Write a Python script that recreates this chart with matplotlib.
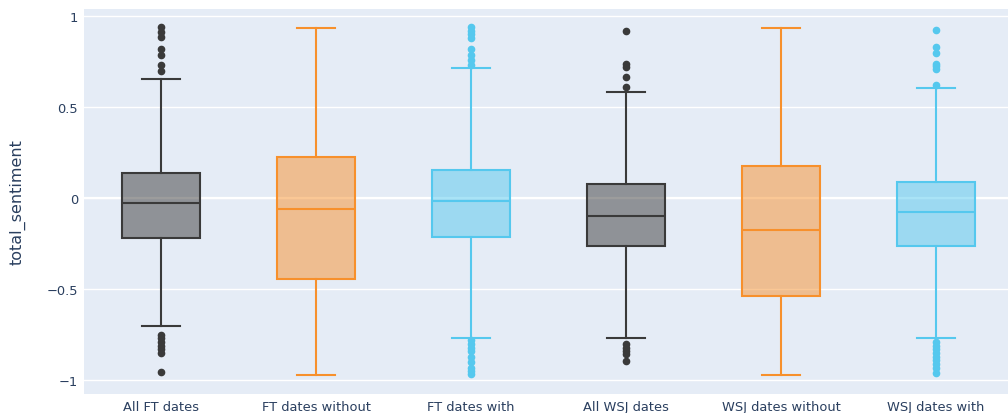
import matplotlib.pyplot as plt
from matplotlib.colors import to_rgba

# Box statistics per group (read as quartiles / whisker ends / outliers)
categories = ["All FT dates", "FT dates without", "FT dates with",
              "All WSJ dates", "WSJ dates without", "WSJ dates with"]
q1 = [-0.22, -0.443, -0.214, -0.264, -0.538, -0.262]
median = [-0.027, -0.059, -0.013, -0.097, -0.172, -0.077]
q3 = [0.137, 0.225, 0.157, 0.079, 0.176, 0.088]
whisker_low = [-0.703, -0.973, -0.77, -0.768, -0.97, -0.766]
whisker_high = [0.654, 0.934, 0.714, 0.586, 0.934, 0.605]
outliers = [
    [0.939, 0.914, 0.885, 0.82, 0.79, 0.73, 0.70,
     -0.75, -0.77, -0.79, -0.81, -0.83, -0.85, -0.956],
    [],
    [0.94, 0.92, 0.90, 0.88, 0.82, 0.79, 0.76, 0.73,
     -0.78, -0.80, -0.82, -0.84, -0.87, -0.90, -0.93, -0.95, -0.966],
    [0.921, 0.74, 0.72, 0.668, 0.61,
     -0.80, -0.82, -0.84, -0.856, -0.892],
    [],
    [0.922, 0.833, 0.797, 0.738, 0.725, 0.71, 0.625,
     -0.788, -0.81, -0.83, -0.85, -0.87, -0.89, -0.91, -0.93, -0.96],
]
colors = ["#3a3a3a", "#f7902c", "#55c8ee", "#3a3a3a", "#f7902c", "#55c8ee"]

plt.rcParams['font.family'] = ['DejaVu Sans']
text_color = "#2a3f5f"

fig = plt.figure(figsize=(10.08, 4.14), dpi=100)
# plot area runs a little past the right edge, as the category axis does
ax = fig.add_axes([83.5 / 1008, 1 - 395 / 414, 930 / 1008, 385 / 414])
ax.set_facecolor("#e5ecf6")

stats = []
for i, name in enumerate(categories):
    stats.append({
        "label": name,
        "q1": q1[i], "med": median[i], "q3": q3[i],
        "whislo": whisker_low[i], "whishi": whisker_high[i],
        "fliers": outliers[i],
    })

positions = list(range(len(categories)))
bp = ax.bxp(stats, positions=positions, widths=0.5, capwidths=0.25,
            patch_artist=True, showfliers=True, manage_ticks=False)

lw = 1.5
for i, c in enumerate(colors):
    bp["boxes"][i].set_facecolor(to_rgba(c, 0.5))
    bp["boxes"][i].set_edgecolor(c)
    bp["boxes"][i].set_linewidth(lw)
    bp["medians"][i].set_color(c)
    bp["medians"][i].set_linewidth(lw)
    for ln in bp["whiskers"][2 * i:2 * i + 2] + bp["caps"][2 * i:2 * i + 2]:
        ln.set_color(c)
        ln.set_linewidth(lw)
    fl = bp["fliers"][i]
    fl.set_marker("o")
    fl.set_markerfacecolor(c)
    fl.set_markeredgecolor(c)
    fl.set_markersize(4.5)
    fl.set_zorder(1.5)

ax.set_xlim(-0.5, 5.5)
ax.set_ylim(-1.075, 1.040)

ax.set_yticks([-1, -0.5, 0, 0.5, 1])
ax.set_yticklabels(["\u22121", "\u22120.5", "0", "0.5", "1"])
ax.set_xticks(positions)
ax.set_xticklabels(categories)
ax.tick_params(length=0, labelsize=9.4, labelcolor=text_color)
ax.tick_params(axis="y", pad=4)
ax.tick_params(axis="x", pad=4)

ax.grid(axis="y", color="white", linewidth=1)
ax.axhline(0, color="white", linewidth=1.6, zorder=0.6)
ax.set_axisbelow(True)
for s in ax.spines.values():
    s.set_visible(False)

fig.text(18 / 1008, 1 - 202 / 414, "total_sentiment", rotation=90,
         ha="center", va="center", fontsize=11.5, color=text_color)

fig.savefig("out.png", dpi=100)
